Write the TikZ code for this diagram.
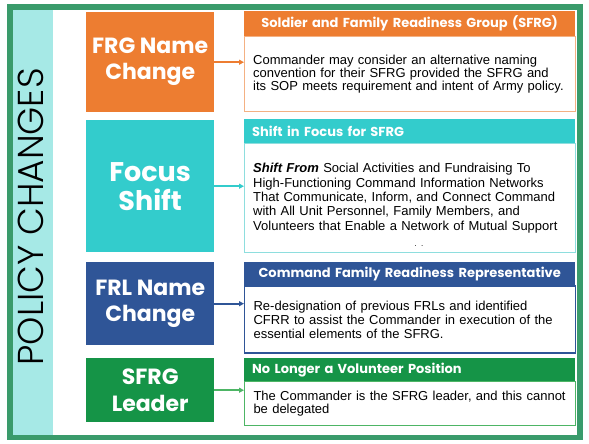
\documentclass[tikz,border=0pt]{standalone}
\usepackage{fontspec}
\setmainfont{Liberation Sans}
\newfontfamily\headfont{Poppins}
\newfontfamily\titlefont{Poppins Light}
\usetikzlibrary{arrows.meta,positioning}
\definecolor{framecolor}{HTML}{3A9B6B}
\definecolor{bandcolor}{HTML}{A6E9E6}
\definecolor{frgcolor}{HTML}{ED7D31}
\definecolor{frgline}{HTML}{F4B183}
\definecolor{focuscolor}{HTML}{33CCCC}
\definecolor{focusline}{HTML}{8EDEDE}
\definecolor{frlcolor}{HTML}{2F5597}
\definecolor{leadcolor}{HTML}{159447}
\definecolor{leadline}{HTML}{4DB565}

\begin{document}
\begin{tikzpicture}[x=1pt,y=1pt,
  leftbox/.style={rectangle,anchor=north west,minimum width=128pt,inner sep=0pt,align=center,text=white,font=\headfont\bfseries\fontsize{22}{26}\selectfont},
  headbox/.style={rectangle,anchor=north west,text width=315pt,inner xsep=8pt,inner ysep=0pt,text=white,font=\headfont\bfseries\fontsize{13}{15}\selectfont},
  bodybox/.style={rectangle,draw,fill=white,anchor=north west,text width=313pt,inner xsep=9pt,inner ysep=0pt,align=left,font=\fontsize{13}{14}\selectfont},
  link/.style={-{Triangle[length=5pt,width=5pt]},line width=1.8pt}]
  \useasboundingbox (0,0) rectangle (589,-444);
  % Frame and side band
  \fill[bandcolor] (13,-10) rectangle (53,-435);
  \draw[framecolor,line width=5.5pt] (10,-7) rectangle (580,-437.5);
  \node[rotate=90,font=\titlefont\fontsize{36}{36}\selectfont] (title) at (31,-217) {POLICY CHANGES};
  % Left boxes
  \node[leftbox,fill=frgcolor,minimum height=100pt] (frg) at (86,-12) {FRG Name\\Change};
  \node[leftbox,fill=focuscolor,minimum height=132pt,font=\headfont\bfseries\fontsize{27}{29}\selectfont] (focus) at (86,-120) {Focus\\Shift};
  \node[leftbox,fill=frlcolor,minimum height=83pt,font=\headfont\bfseries\fontsize{22}{26}\selectfont] (frl) at (86,-262) {FRL Name\\Change};
  \node[leftbox,fill=leadcolor,minimum height=64pt,font=\headfont\bfseries\fontsize{22}{27}\selectfont] (lead) at (86,-358) {SFRG\\Leader};
  % Right boxes: headers
  \node[headbox,fill=frgcolor,minimum height=25pt,align=center] (frghead) at (244,-11) {Soldier and Family Readiness Group (SFRG)};
  \node[headbox,fill=focuscolor,minimum height=24pt,align=left] (focushead) at (244,-119) {Shift in Focus for SFRG};
  \node[headbox,fill=frlcolor,minimum height=23pt,align=center] (frlhead) at (244,-262) {Command Family Readiness Representative};
  \node[headbox,fill=leadcolor,minimum height=23pt,align=left] (leadhead) at (244,-358) {No Longer a Volunteer Position};
  % Right boxes: bodies
  \node[bodybox,draw=frgline,minimum height=75pt,font=\fontsize{13}{12}\selectfont] (frgbody) at (frghead.south west)
    {Commander may consider an alternative naming\\convention for their SFRG provided the SFRG and\\its SOP meets requirement and intent of Army policy.};
  \node[bodybox,draw=focusline,minimum height=109pt,font=\fontsize{13}{14.3}\selectfont] (focusbody) at (focushead.south west)
    {\textbf{\textit{Shift From}} Social Activities and Fundraising To\\High-Functioning Command Information Networks\\That Communicate, Inform, and Connect Command\\with All Unit Personnel, Family Members, and\\Volunteers that Enable a Network of Mutual Support};
  \node[font=\fontsize{8}{8}\selectfont] (dots) at (419,-246) {.\ \ .};
  \node[bodybox,draw=frlcolor,line width=1.2pt,minimum height=67pt] (frlbody) at (frlhead.south west)
    {Re-designation of previous FRLs and identified\\CFRR to assist the Commander in execution of the\\essential elements of the SFRG.};
  \node[bodybox,draw=leadline,line width=1pt,minimum height=44pt,font=\fontsize{13}{13}\selectfont] (leadbody) at (leadhead.south west)
    {The Commander is the SFRG leader, and this cannot\\be delegated};
  % Arrows
  \draw[link,frgcolor] (frg.east) -- (frg.east -| frgbody.west);
  \draw[link,focuscolor] (focus.east) -- (focus.east -| focusbody.west);
  \draw[link,frlcolor] (frl.east) -- (frl.east -| frlbody.west);
  \draw[link,leadline] (lead.east) -- (lead.east -| leadbody.west);
\end{tikzpicture}
\end{document}
